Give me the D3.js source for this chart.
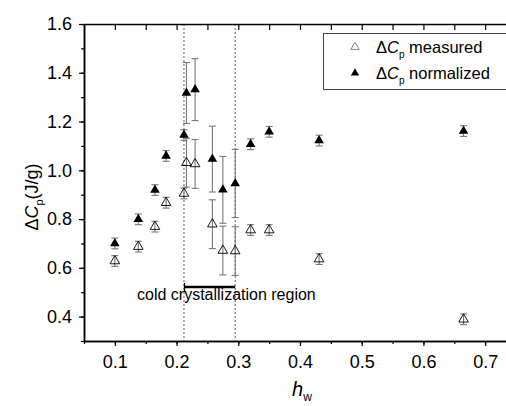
<!DOCTYPE html>
<html>
<head>
<meta charset="utf-8">
<script src="https://cdn.jsdelivr.net/npm/d3@7"></script>
<style>
  body { margin: 0; background: #fff; }
  svg { display: block; font-family: "Liberation Sans", Arial, sans-serif; }
</style>
</head>
<body>
<div id="chart"></div>
<script>
// values
const hw          = [0.100, 0.138, 0.165, 0.183, 0.212, 0.216, 0.230, 0.258, 0.275, 0.295, 0.320, 0.350, 0.431, 0.665];
const measured    = [0.628, 0.687, 0.769, 0.867, 0.905, 1.031, 1.026, 0.779, 0.671, 0.669, 0.755, 0.755, 0.636, 0.389];
const normalized  = [0.700, 0.799, 0.919, 1.059, 1.145, 1.317, 1.331, 1.046, 0.920, 0.946, 1.107, 1.158, 1.122, 1.161];
const measuredErr   = [0.022, 0.022, 0.022, 0.022, 0.022, 0.100, 0.100, 0.100, 0.100, 0.100, 0.022, 0.022, 0.022, 0.022];
const normalizedErr = [0.022, 0.022, 0.022, 0.022, 0.022, 0.125, 0.127, 0.135, 0.137, 0.140, 0.022, 0.022, 0.022, 0.022];
const xTicks = [0.1, 0.2, 0.3, 0.4, 0.5, 0.6, 0.7];
const yTicks = [0.4, 0.6, 0.8, 1.0, 1.2, 1.4, 1.6];
const region = [0.212, 0.295];

let width = 506, height = 406,
    margin = ({top: 24, right: -10, bottom: 65, left: 84});

let x = d3.scaleLinear().domain([0.05, 0.75]).range([margin.left, width - margin.right]);
let y = d3.scaleLinear().domain([0.3, 1.6]).range([height - margin.bottom, margin.top]);

const svg = d3.select("#chart").append("svg")
    .attr("width", width).attr("height", height);

// dashed lines marking the region
svg.append("g")
    .selectAll("line")
    .data(region)
    .join("line")
      .attr("x1", d => x(d)).attr("x2", d => x(d))
      .attr("y1", y(1.6)).attr("y2", y(0.3))
      .attr("stroke", "#333").attr("stroke-width", 0.8)
      .attr("stroke-dasharray", "2,2");

// axes
const minor = d3.range(0.05, 0.76, 0.05).map(d => +d.toFixed(2));
const yMinor = d3.range(0.3, 1.61, 0.1).map(d => +d.toFixed(1));

const axisStyle = g => g.call(g => g.selectAll("path.domain").attr("stroke", "#000").attr("stroke-width", 1.5))
    .call(g => g.selectAll(".tick line").attr("stroke", "#000").attr("stroke-width", 1.2))
    .call(g => g.selectAll("text").attr("font-size", 18).attr("fill", "#000").attr("font-family", "'Liberation Sans', Arial, sans-serif"));

svg.append("g")
    .attr("transform", `translate(0,${y(0.3)})`)
    .call(d3.axisBottom(x).tickValues(minor).tickSize(3).tickFormat("").tickSizeOuter(0))
    .call(axisStyle);
svg.append("g")
    .attr("transform", `translate(0,${y(0.3)})`)
    .call(d3.axisBottom(x).tickValues(xTicks).tickSize(5).tickPadding(9).tickFormat(d3.format(".1f")).tickSizeOuter(0))
    .call(axisStyle);
svg.append("g")
    .attr("transform", `translate(0,${y(1.6)})`)
    .call(d3.axisTop(x).tickValues(minor).tickSize(-6).tickFormat("").tickSizeOuter(0))
    .call(axisStyle);
svg.append("g")
    .attr("transform", `translate(${x(0.05)},0)`)
    .call(d3.axisLeft(y).tickValues(yMinor).tickSize(3).tickFormat("").tickSizeOuter(0))
    .call(axisStyle);
svg.append("g")
    .attr("transform", `translate(${x(0.05)},0)`)
    .call(d3.axisLeft(y).tickValues(yTicks).tickSize(5).tickPadding(7).tickFormat(d3.format(".1f")).tickSizeOuter(0))
    .call(axisStyle);

// error bars
const bars = [];
hw.forEach((h, i) => {
  bars.push({x: h, v: measured[i], e: measuredErr[i]});
  bars.push({x: h, v: normalized[i], e: normalizedErr[i]});
});
const eb = svg.append("g").attr("stroke", "#777").attr("stroke-width", 1.1)
  .selectAll("g").data(bars).join("g");
eb.append("line")
    .attr("x1", d => x(d.x)).attr("x2", d => x(d.x))
    .attr("y1", d => y(d.v + d.e)).attr("y2", d => y(d.v - d.e));
eb.append("line")
    .attr("x1", d => x(d.x) - 3.5).attr("x2", d => x(d.x) + 3.5)
    .attr("y1", d => y(d.v + d.e)).attr("y2", d => y(d.v + d.e));
eb.append("line")
    .attr("x1", d => x(d.x) - 3.5).attr("x2", d => x(d.x) + 3.5)
    .attr("y1", d => y(d.v - d.e)).attr("y2", d => y(d.v - d.e));

// markers
const tri = d3.symbol(d3.symbolTriangle, 40);
svg.append("g")
    .selectAll("path")
    .data(hw)
    .join("path")
      .attr("d", tri)
      .attr("transform", (d, i) => `translate(${x(d)},${y(measured[i])})`)
      .attr("fill", "none").attr("stroke", "#000").attr("stroke-width", 0.9);
svg.append("g")
    .selectAll("path")
    .data(hw)
    .join("path")
      .attr("d", tri)
      .attr("transform", (d, i) => `translate(${x(d)},${y(normalized[i])})`)
      .attr("fill", "#000");

// region annotation
svg.append("line")
    .attr("x1", x(region[0])).attr("x2", x(region[1]))
    .attr("y1", 287).attr("y2", 287)
    .attr("stroke", "#000").attr("stroke-width", 2.5);
svg.append("line")
    .attr("x1", x(region[0]) + 0.5).attr("x2", x(region[0]) + 0.5)
    .attr("y1", 283).attr("y2", 292)
    .attr("stroke", "#000").attr("stroke-width", 1.2);
svg.append("text")
    .attr("x", 137).attr("y", 300)
    .attr("font-size", 16)
    .text("cold crystallization region");

// legend
svg.append("rect")
    .attr("x", 323.5).attr("y", 33.5).attr("width", 200).attr("height", 56)
    .attr("fill", "#fff").attr("stroke", "#444").attr("stroke-width", 1);
const tri2 = d3.symbol(d3.symbolTriangle, 30);
svg.append("path").attr("d", tri2).attr("transform", "translate(355,47)")
    .attr("fill", "none").attr("stroke", "#777").attr("stroke-width", 0.9);
svg.append("path").attr("d", tri2).attr("transform", "translate(355,73)")
    .attr("fill", "#000");
const legendLabels = ["measured", "normalized"];
legendLabels.forEach((lab, i) => {
  const t = svg.append("text").attr("x", 376).attr("y", 53 + i * 26).attr("font-size", 16.5);
  t.append("tspan").text("\u0394");
  t.append("tspan").attr("font-style", "italic").text("C");
  t.append("tspan").attr("font-size", 10).attr("dy", 5).text("p");
  t.append("tspan").attr("dy", -5).text(" " + lab);
});

// axis titles
const yt = svg.append("text")
    .attr("transform", "translate(38,197) rotate(-90)")
    .attr("text-anchor", "middle").attr("font-size", 18);
yt.append("tspan").text("\u0394");
yt.append("tspan").attr("font-style", "italic").text("C");
yt.append("tspan").attr("font-size", 11).attr("dy", 5).text("p");
yt.append("tspan").attr("dy", -5).text("(J/g)");

const xt = svg.append("text")
    .attr("x", 292).attr("y", 396).attr("font-size", 20);
xt.append("tspan").attr("font-style", "italic").text("h");
xt.append("tspan").attr("font-size", 12).attr("dy", 5).text("w");
</script>
</body>
</html>
